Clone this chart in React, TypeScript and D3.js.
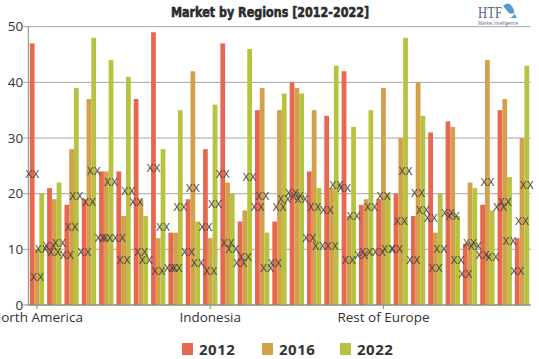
import React from "react";
import * as d3 from "d3";

const categories = [
  "North America", "United States", "Canada", "Mexico", "Asia Pacific", "China", "Japan", "India",
  "South Korea", "Australia", "Indonesia", "Southeast Asia", "Rest of Asia-Pacific", "Europe",
  "Germany", "France", "United Kingdom", "Italy", "Spain", "Russia", "Rest of Europe",
  "Middle East & Africa", "GCC Countries", "South Africa", "Turkey", "Rest of MEA",
  "Latin America", "Brazil", "Argentina",
];
const seriesNames = ["2012", "2016", "2022"];
const values2012 = [47, 21, 18, 19, 24, 24, 37, 49, 13, 19, 28, 47, 15, 35, 15, 40, 24, 34, 42, 18, 19, 20, 16, 31, 33, 11, 18, 35, 12];
const values2016 = [10, 19, 28, 37, 24, 16, 19, 12, 13, 42, 12, 22, 17, 39, 35, 39, 35, 21, 16, 19, 39, 30, 40, 13, 32, 22, 44, 37, 30];
const values2022 = [20, 22, 39, 48, 44, 41, 16, 28, 35, 15, 36, 20, 46, 13, 38, 38, 21, 43, 32, 35, 20, 48, 34, 20, 16, 21, 17, 23, 43];
const yTicks = [0, 10, 20, 30, 40, 50];
const shownLabels = ["North America", "Indonesia", "Rest of Europe"];
const colors = ["#E8674F", "#D3A04C", "#B7C33F"];
const title = "Market by Regions [2012-2022]";

const W = 539;
const H = 359;
const left = 28.3;
const right = 530.7;
const top = 26.7;
const bottom = 305;

export default function App() {
  const seriesValues = [values2012, values2016, values2022];
  const x = d3.scaleBand<string>().domain(categories).range([left, right]).paddingInner(0.174).paddingOuter(0.087);
  const xi = d3.scaleBand<string>().domain(seriesNames).range([0, x.bandwidth()]);
  const y = d3.scaleLinear().domain([0, 50]).range([bottom, top]);
  const font = "'Open Sans', 'Liberation Sans', sans-serif";

  const legendX = [182, 262, 340];

  return (
    <svg width={W} height={H} style={{ position: "fixed", left: 0, top: 0, background: "#fff" }} fontFamily={font}>
      <rect x={0} y={0} width={W} height={H} fill="#fff" />
      {/* gridlines */}
      {yTicks.map((t) => (
        <g key={t}>
          <line x1={left - 5} x2={right} y1={y(t)} y2={y(t)} stroke={t === 0 ? "#888" : "#a6a6a6"} strokeWidth={1} />
          <text x={left - 5} y={y(t)} dy="0.35em" textAnchor="end" fontSize={13.5} fill="#333">
            {t}
          </text>
        </g>
      ))}
      {/* bars */}
      {categories.map((c, i) => (
        <g key={c}>
          {seriesNames.map((s, j) => {
            const v = seriesValues[j][i];
            return (
              <rect
                key={s}
                x={(x(c) ?? 0) + (xi(s) ?? 0)}
                y={y(v)}
                width={xi.bandwidth()}
                height={y(0) - y(v)}
                fill={colors[j]}
              />
            );
          })}
        </g>
      ))}
      {/* axis lines */}
      <line x1={left} x2={left} y1={top} y2={bottom} stroke="#888" />
      <line x1={left} x2={right} y1={bottom} y2={bottom} stroke="#888" />
      {/* data labels */}
      {categories.map((c, i) => (
        <g key={"l" + c}>
          {seriesNames.map((s, j) => {
            const v = seriesValues[j][i];
            return (
              <text
                key={s}
                x={(x(c) ?? 0) + (xi(s) ?? 0) + xi.bandwidth() / 2}
                y={y(v / 2)}
                dy="0.35em"
                textAnchor="middle"
                fontSize={10.5}
                fill="#444"
                fontFamily="'Liberation Sans', sans-serif"
              >
                XX
              </text>
            );
          })}
        </g>
      ))}
      {/* x ticks + labels */}
      {shownLabels.map((l) => {
        const cx = (x(l) ?? 0) + x.bandwidth() / 2;
        return (
          <g key={l}>
            <line x1={cx} x2={cx} y1={bottom} y2={bottom + 4} stroke="#888" />
            <text x={cx} y={322} textAnchor="middle" fontSize={13.5} fill="#333">
              {l}
            </text>
          </g>
        );
      })}
      {/* title */}
      <text
        x={270}
        y={16.5}
        textAnchor="middle"
        fontSize={14}
        fontWeight={900}
        fill="#2b2b2b"
        stroke="#2b2b2b"
        strokeWidth={0.6}
        fontFamily="'DejaVu Sans', sans-serif"
        textLength={198}
        lengthAdjust="spacingAndGlyphs"
      >
        {title}
      </text>
      {/* logo */}
      <g>
        <text x={478} y={18} fontSize={17} fill="#5b6680" fontFamily="'Liberation Serif', serif" textLength={24} lengthAdjust="spacingAndGlyphs">
          HTF
        </text>
        <path d="M503,6 q6,-6 10,2 q4,8 -4,10 l8,0 l-3,-5 q-4,2 -6,-1 z" fill="#3b87c6" opacity={0.85} />
        <text x={478} y={24.5} fontSize={4.5} fill="#5b6680">Market Intelligence</text>
      </g>
      {/* legend */}
      {seriesNames.map((s, j) => (
        <g key={"lg" + s}>
          <rect x={legendX[j]} y={343} width={11} height={12} fill={colors[j]} />
          <text x={legendX[j] + 17} y={355} fontSize={15} fontWeight={700} fill="#333" letterSpacing={0.5}>
            {s}
          </text>
        </g>
      ))}
    </svg>
  );
}
